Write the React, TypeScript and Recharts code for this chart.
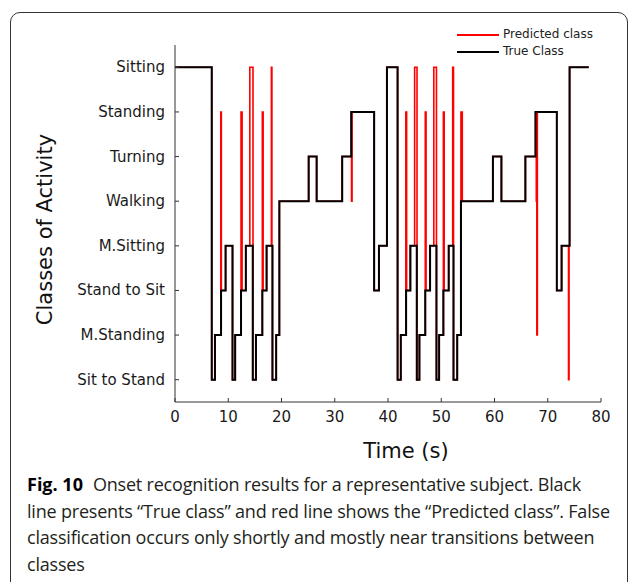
import React from 'react';
import { LineChart, Line, XAxis, YAxis, Legend } from 'recharts';

// activity classes, index = value on the y axis
const classLabels = ['Sit to Stand', 'M.Standing', 'Stand to Sit', 'M.Sitting', 'Walking', 'Turning', 'Standing', 'Sitting'];
const xTicks = [0, 10, 20, 30, 40, 50, 60, 70, 80];
const yTicks = [0, 1, 2, 3, 4, 5, 6, 7];

// true class: time (s) where each class starts
const trueTimes = [0, 6.9, 7.5, 8.65, 9.5, 10.8, 11.3, 12.4, 13.3, 14.6, 15.2, 16.4, 17.2, 18.3, 19.0, 19.6, 25.1, 26.6, 31.4, 33.1, 37.4, 38.3, 39.8, 41.8, 42.4, 43.4, 44.2, 45.4, 45.9, 47.0, 47.9, 49.1, 49.6, 50.4, 51.4, 52.3, 53.0, 53.7, 59.7, 61.3, 65.8, 67.7, 71.7, 72.6, 74.1, 77.7];
const trueClasses = [7, 0, 1, 2, 3, 0, 1, 2, 3, 0, 1, 2, 3, 0, 1, 4, 5, 4, 5, 6, 2, 3, 7, 0, 1, 2, 3, 0, 1, 2, 3, 0, 1, 2, 3, 0, 1, 4, 5, 4, 5, 6, 2, 3, 7, 7];

// predicted class
const predTimes = [0, 6.9, 7.5, 8.6, 8.7, 9.5, 10.8, 11.3, 12.4, 12.6, 13.3, 14.05, 14.65, 15.2, 16.4, 16.55, 17.2, 18.1, 18.2, 18.3, 19.0, 19.6, 25.1, 26.6, 31.4, 33.1, 33.15, 33.25, 37.4, 38.3, 39.8, 41.8, 42.4, 43.35, 43.5, 44.2, 45.0, 45.45, 45.9, 47.0, 47.15, 47.9, 48.6, 49.1, 49.6, 50.4, 50.55, 51.4, 52.15, 52.3, 53.0, 53.7, 53.95, 59.7, 61.3, 65.8, 67.7, 67.85, 67.95, 68.05, 71.7, 72.6, 73.9, 74.0, 74.1, 77.7];
const predClasses = [7, 0, 1, 6, 2, 3, 0, 1, 6, 2, 3, 7, 0, 1, 6, 2, 3, 7, 3, 0, 1, 4, 5, 4, 5, 6, 4, 6, 2, 3, 7, 0, 1, 6, 2, 3, 7, 0, 1, 6, 2, 3, 7, 0, 1, 6, 2, 3, 7, 0, 1, 6, 4, 5, 4, 5, 6, 4, 1, 6, 2, 3, 0, 3, 7, 7];

const trueData = trueTimes.map((t, i) => ({ t, c: trueClasses[i] }));
const predData = predTimes.map((t, i) => ({ t, c: predClasses[i] }));

const axisFont = '"DejaVu Sans", Verdana, sans-serif';

const XTick = ({ x, y, payload }: any) => (
    <g>
        <line x1={x} x2={x} y1={y} y2={y - 4} stroke="#333" />
        <text x={x} y={y + 20} textAnchor="middle" fontSize={15} fill="#1a1a1a" fontFamily={axisFont}>
            {payload.value}
        </text>
    </g>
);

const YTick = ({ x, y, payload }: any) => (
    <g>
        <line x1={x} x2={x + 4} y1={y} y2={y} stroke="#333" />
        <text x={x - 10} y={y + 5} textAnchor="end" fontSize={15} fill="#1a1a1a" fontFamily={axisFont}>
            {classLabels[payload.value]}
        </text>
    </g>
);

const XTitle = ({ viewBox }: any) => (
    <text x={viewBox.x + viewBox.width / 2 + 18} y={458} textAnchor="middle" fontSize={21} fill="#111" fontFamily={axisFont}>
        Time (s)
    </text>
);

const YTitle = ({ viewBox }: any) => {
    const cx = 45;
    const cy = viewBox.y + viewBox.height / 2 + 6;
    return (
        <text x={cx} y={cy} transform={`rotate(-90 ${cx} ${cy})`} textAnchor="middle" dominantBaseline="central" fontSize={21} fill="#111" fontFamily={axisFont}>
            Classes of Activity
        </text>
    );
};

const LegendBox = ({ payload }: any) => (
    <div style={{ fontFamily: axisFont, fontSize: 12, color: '#222', lineHeight: '17px' }}>
        {(payload || []).map((p: any) => (
            <div key={p.value} style={{ display: 'flex', alignItems: 'center' }}>
                <span style={{ display: 'inline-block', width: 42, height: 2, background: p.color, marginRight: 4 }} />
                <span>{p.value}</span>
            </div>
        ))}
    </div>
);

export default function App() {
    return (
        <div style={{ position: 'absolute', left: 0, top: 0, width: 630, height: 582, overflow: 'hidden', background: '#fff' }}>
            <div style={{ position: 'absolute', left: 10, top: 12, width: 616, height: 620, border: '1px solid #333', borderRadius: 10 }} />
            <div style={{ position: 'absolute', left: 0, top: 0 }}>
                <LineChart width={630} height={470} margin={{ top: 45, right: 29, left: 55, bottom: 0 }}>
                    <XAxis
                        type="number"
                        dataKey="t"
                        domain={[0, 80]}
                        ticks={xTicks}
                        allowDataOverflow
                        height={68}
                        tickSize={0}
                        tickMargin={0}
                        tickLine={false}
                        axisLine={{ stroke: '#333' }}
                        tick={<XTick />}
                        label={<XTitle />}
                    />
                    <YAxis
                        type="number"
                        domain={[-0.5, 7.5]}
                        ticks={yTicks}
                        allowDataOverflow
                        width={120}
                        tickSize={0}
                        tickMargin={0}
                        tickLine={false}
                        axisLine={{ stroke: '#333' }}
                        tick={<YTick />}
                        label={<YTitle />}
                    />
                    <Legend
                        layout="vertical"
                        align="center"
                        verticalAlign="middle"
                        content={<LegendBox />}
                        wrapperStyle={{ left: 457, top: 26, width: 170 }}
                    />
                    <Line data={predData} dataKey="c" name="Predicted class" type="stepAfter" stroke="#ff0000" strokeWidth={1.6} dot={false} activeDot={false} isAnimationActive={false} />
                    <Line data={trueData} dataKey="c" name="True Class" type="stepAfter" stroke="#000000" strokeWidth={2} dot={false} activeDot={false} isAnimationActive={false} />
                </LineChart>
            </div>
            <div style={{ position: 'absolute', left: 27, top: 471, fontFamily: '"Open Sans", sans-serif', fontSize: 18, lineHeight: '26.5px', letterSpacing: -0.2, color: '#231f20', whiteSpace: 'nowrap' }}>
                <div><b style={{ color: '#000', marginRight: 10, letterSpacing: 0 }}>Fig. 10</b>Onset recognition results for a representative subject. Black</div>
                <div>line presents “True class” and red line shows the “Predicted class”. False</div>
                <div>classification occurs only shortly and mostly near transitions between</div>
                <div>classes</div>
            </div>
        </div>
    );
}
